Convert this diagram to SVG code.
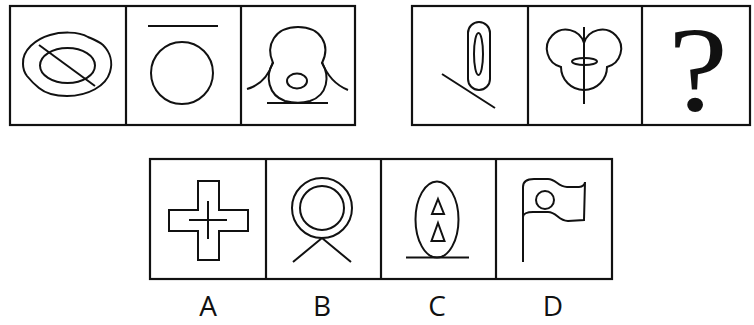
<svg xmlns="http://www.w3.org/2000/svg" width="754" height="325" viewBox="0 0 754 325">
<style>
.frame{fill:none;stroke:#111;stroke-width:2.2}
.f{fill:none;stroke:#111;stroke-width:2}
.lbl{font-family:"Open Sans","Liberation Sans",sans-serif;font-size:28px;fill:#111;text-anchor:middle}
.q{font-family:"Liberation Serif","DejaVu Serif",serif;font-size:120px;fill:#111;text-anchor:middle}
</style>
<rect width="754" height="325" fill="#fff"/>
<g id="frames">
<rect class="frame" x="10" y="6" width="345" height="119"/>
<line class="frame" x1="126" y1="6" x2="126" y2="125"/>
<line class="frame" x1="241" y1="6" x2="241" y2="125"/>
<rect class="frame" x="412" y="6" width="338" height="119"/>
<line class="frame" x1="528" y1="6" x2="528" y2="125"/>
<line class="frame" x1="642" y1="6" x2="642" y2="125"/>
<rect class="frame" x="150" y="159" width="462" height="120"/>
<line class="frame" x1="266" y1="159" x2="266" y2="279"/>
<line class="frame" x1="381" y1="159" x2="381" y2="279"/>
<line class="frame" x1="496" y1="159" x2="496" y2="279"/>
</g>
<g id="p1">
<path class="f" d="M23,64 C22,50 36,39 50,35 C60,32 78,31 88,37 C95,40 98,41 103,45 C110,52 113,62 110,72 C106,86 88,96 67,96 C54,96 45,93 39,88 C34,84 31,81 27,76 C24,72 23,68 23,64 Z"/>
<ellipse class="f" cx="67.5" cy="65.5" rx="27.5" ry="17.5"/>
<line class="f" x1="39" y1="45" x2="95" y2="86"/>
</g>
<g id="p2">
<line class="f" x1="148" y1="26" x2="218" y2="26"/>
<circle class="f" cx="182" cy="73" r="31"/>
</g>
<g id="p3">
<path class="f" d="M273,63 C265,45 275,27 298,27 C321,27 331,45 322,63 C330,76 328,95 310,101 C303,103 293,103 285,101 C268,95 265,76 273,63 Z"/>
<path class="f" d="M273,62 C268,78 258,86 247,89"/>
<path class="f" d="M322,62 C328,78 338,86 348,90"/>
<ellipse class="f" cx="297" cy="81" rx="10" ry="7.5"/>
<line class="f" x1="267" y1="103" x2="328" y2="103"/>
</g>
<g id="p4">
<rect class="f" x="468" y="22" width="22" height="68" rx="11"/>
<ellipse class="f" cx="478.5" cy="54" rx="4.5" ry="21"/>
<line class="f" x1="442" y1="74" x2="495" y2="108"/>
</g>
<g id="p5">
<path class="f" d="M584,43 A19,19 0 1 0 561,67 A23,23 0 0 0 607,67 A19,19 0 1 0 584,43 Z"/>
<line class="f" x1="584" y1="27" x2="584" y2="104"/>
<ellipse class="f" cx="584.5" cy="61.5" rx="12.5" ry="3.5"/>
</g>
<g id="p6">
<text class="q" x="698" y="110" transform="translate(698 0) scale(1.12 1) translate(-698 0)">?</text>
</g>
<g id="optA">
<polygon class="f" points="198,181 219,181 219,210 248,210 248,231 219,231 219,260 198,260 198,231 169,231 169,210 198,210"/>
<line class="f" x1="189" y1="220" x2="227" y2="220"/>
<line class="f" x1="208" y1="201" x2="208" y2="239"/>
</g>
<g id="optB">
<circle class="f" cx="322" cy="208" r="30"/>
<circle class="f" cx="322" cy="208" r="22"/>
<polyline class="f" points="293,262 322,238 351,262"/>
</g>
<g id="optC">
<ellipse class="f" cx="437" cy="219.5" rx="21.5" ry="38"/>
<line class="f" x1="406" y1="257.5" x2="469" y2="257.5"/>
<polygon class="f" points="438,199 444,214 432,214"/>
<polygon class="f" points="438,223 444.5,241 431.5,241"/>
</g>
<g id="optD">
<path class="f" d="M523,262 L523,187 C523,181 527,179 534,179 L548,179 C556,179 558,187 567,187 L579,187 C583,187 585,184 585,182 L584,220 L568,221 C558,221 557,212 548,212 L533,212 C527,212 523,214 523,217"/>
<circle class="f" cx="545" cy="200" r="9"/>
</g>
<g id="labels">
<text class="lbl" x="208" y="316">A</text>
<text class="lbl" x="322" y="316">B</text>
<text class="lbl" x="437" y="316">C</text>
<text class="lbl" x="553" y="316">D</text>
</g>
</svg>
